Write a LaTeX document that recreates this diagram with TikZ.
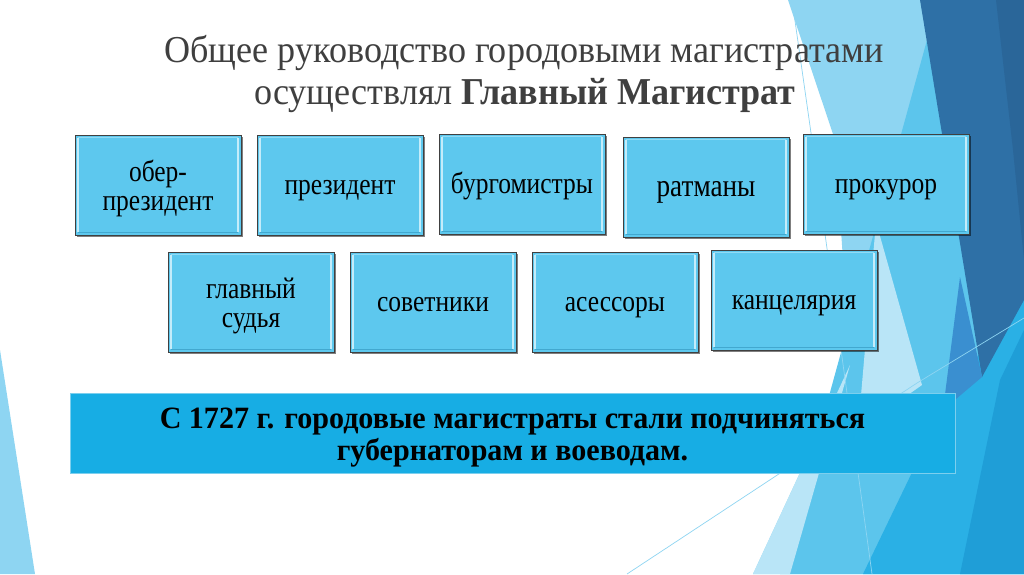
\documentclass[tikz,border=0pt]{standalone}
\usepackage{fontspec}
\setmainfont{Liberation Serif}
\newfontfamily\titlefont[FakeStretch=0.95]{Liberation Serif}
\newfontfamily\boxfont[FakeStretch=0.85]{Liberation Serif}
\newfontfamily\notefont[FakeStretch=0.97]{Liberation Serif}
\usetikzlibrary{shadows}
\definecolor{boxfill}{HTML}{5DC8EE}
\definecolor{boxhl}{HTML}{C4ECFA}
\definecolor{boxdark}{HTML}{42A8CF}
\definecolor{noteblue}{HTML}{17ADE4}
\definecolor{noteedge}{HTML}{7CCFEE}
\definecolor{titlegray}{HTML}{3F3F3F}
\definecolor{bglight}{HTML}{8ED5F2}
\definecolor{bgpale}{HTML}{B9E5F7}
\definecolor{bgsky}{HTML}{5CC5EC}
\definecolor{bgbright}{HTML}{2AB0E5}
\definecolor{bgbright2}{HTML}{1F9ED7}
\definecolor{bgmid}{HTML}{3A8FD0}
\definecolor{bgdark}{HTML}{2E70A6}
\definecolor{bgdarker}{HTML}{2A6699}
\tikzset{
  rolebox/.style={draw=black!75, line width=0.8pt, fill=boxfill,
    minimum width=166pt, minimum height=100pt, inner sep=0pt, align=center,
    font=\boxfont\fontsize{30}{29}\selectfont, text height=19pt, text depth=0pt,
    drop shadow={shadow xshift=1.5pt, shadow yshift=-2pt, opacity=0.5, fill=black},
    path picture={
      \draw[boxhl, line width=2pt] ([xshift=3pt,yshift=-3pt]path picture bounding box.north west) -- ([xshift=3pt,yshift=3pt]path picture bounding box.south west);
      \draw[boxhl, line width=2pt] ([xshift=-3.5pt,yshift=-3pt]path picture bounding box.north east) -- ([xshift=-3.5pt,yshift=3pt]path picture bounding box.south east);
      \draw[boxhl!50!boxfill, line width=1pt] ([xshift=3pt,yshift=-2.5pt]path picture bounding box.north west) -- ([xshift=-3pt,yshift=-2.5pt]path picture bounding box.north east);
      \draw[boxdark, line width=1pt] ([xshift=3pt,yshift=2.5pt]path picture bounding box.south west) -- ([xshift=-3pt,yshift=2.5pt]path picture bounding box.south east);
    }},
  twoline/.style={text height=50pt, text depth=0pt},
  titletext/.style={anchor=base, text=titlegray, inner sep=0pt, font=\titlefont\fontsize{38}{42}\selectfont},
  notebox/.style={draw=noteedge, line width=0.8pt, fill=noteblue, minimum width=885pt, minimum height=80pt,
    inner sep=0pt, align=center, font=\notefont\bfseries\fontsize{31}{32}\selectfont,
    text height=54pt, text depth=0pt},
  bgline/.style={bglight, line width=0.7pt}
}
\begin{document}
\begin{tikzpicture}[x=1pt,y=-1pt]
\useasboundingbox (0,0) rectangle (1024,574);
\fill[white] (0,0) rectangle (1024,574);
% background facets
\fill[bglight] (0,350) -- (35,574) -- (0,574) -- cycle;
\fill[bglight] (788,0) -- (925,0) -- (1024,0) -- (1024,574) -- (753,574) -- (850,365) -- (835,140) -- cycle;
\fill[bgsky] (927,40) -- (960,0) -- (1024,0) -- (1024,574) -- (780,574) -- cycle;
\fill[bgpale] (876,222) -- (922,385) -- (858,430) -- cycle;
\fill[bgpale] (753,574) -- (850,365) -- (790,574) -- cycle;
\fill[bgbright] (863,574) -- (947,400) -- (1024,290) -- (1024,574) -- cycle;
\fill[bgbright2] (960,574) -- (1000,380) -- (1024,330) -- (1024,574) -- cycle;
\fill[bgdark] (920,0) -- (1024,0) -- (1024,300) -- (982,377) -- cycle;
\fill[bgdarker] (996,0) -- (1024,0) -- (1024,260) -- (1013,150) -- cycle;
\fill[bgmid] (960,277) -- (982,377) -- (943,410) -- cycle;
\draw[bgline] (792,0) -- (812,140) -- (872,574);
\draw[bgline] (627,574) -- (917,383) -- (1024,318);
% title
\node[titletext] (t1) at (524,62) {Общее руководство городовыми магистратами};
\node[titletext] (t2) at (525,104) {осуществлял \textbf{Главный Магистрат}};
% boxes row 1
\node[rolebox, twoline] (ober) at (158,185) {обер-\\президент};
\node[rolebox] (pres) at (340,185) {президент};
\node[rolebox] (burg) at (522,184) {бургомистры};
\node[rolebox, font=\boxfont\fontsize{32}{30}\selectfont] (ratm) at (706,187) {ратманы};
\node[rolebox] (prok) at (886,184) {прокурор};
% boxes row 2
\node[rolebox, twoline] (sudya) at (251,302) {главный\\судья};
\node[rolebox] (sovet) at (433,302) {советники};
\node[rolebox] (asses) at (615,302) {асессоры};
\node[rolebox] (kanc) at (794,300) {канцелярия};
% note
\node[notebox] (note) at (512.5,433) {С 1727 г. городовые магистраты стали подчиняться\\губернаторам и воеводам.};
\end{tikzpicture}
\end{document}
